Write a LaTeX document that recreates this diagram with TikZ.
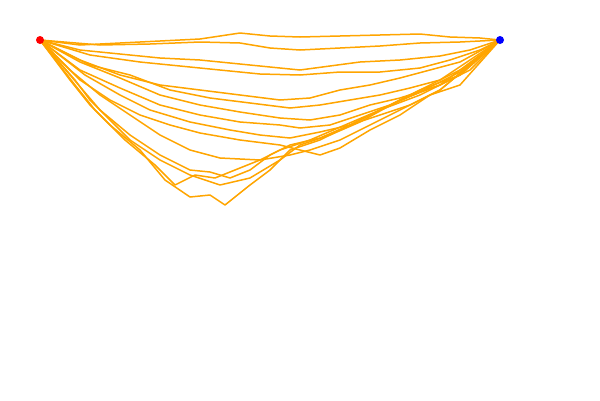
\documentclass[tikz,border=0pt]{standalone}
\usepackage{tikz}

\definecolor{walkorange}{RGB}{255,165,0}

\begin{document}
\begin{tikzpicture}[
  x=1pt, y=-1pt,
  walk/.style={
    draw=walkorange,
    line width=1.5pt,
    line join=round
  },
  endpt/.style={
    circle,
    inner sep=0pt,
    minimum size=8pt
  }
]

\useasboundingbox (0,0) rectangle (600,400);

\coordinate (src) at (40,40);
\coordinate (dst) at (500,40);

\draw[walk] (src) -- (80,45) -- (120,43) -- (160,41) -- (200,39) -- (240,33) -- (270,36) -- (300,37) -- (340,36) -- (380,35) -- (420,34) -- (450,37) -- (480,38) -- (dst);
\draw[walk] (src) -- (100,45) -- (150,44) -- (200,42) -- (240,43) -- (270,48) -- (300,50) -- (340,48) -- (380,46) -- (420,43) -- (460,42) -- (dst);
\draw[walk] (src) -- (80,50) -- (120,54) -- (160,58) -- (200,60) -- (240,64) -- (280,68) -- (300,70) -- (330,66) -- (360,62) -- (400,60) -- (440,56) -- (470,50) -- (dst);
\draw[walk] (src) -- (90,55) -- (140,62) -- (180,66) -- (220,70) -- (260,74) -- (300,75) -- (340,72) -- (380,72) -- (420,68) -- (450,60) -- (480,50) -- (dst);
\draw[walk] (src) -- (80,60) -- (120,75) -- (160,85) -- (200,90) -- (240,95) -- (280,100) -- (310,98) -- (340,90) -- (370,85) -- (400,78) -- (430,70) -- (460,62) -- (dst);
\draw[walk] (src) -- (90,65) -- (130,75) -- (170,90) -- (210,98) -- (250,103) -- (290,108) -- (320,105) -- (350,100) -- (380,95) -- (410,88) -- (440,80) -- (470,65) -- (dst);
\draw[walk] (src) -- (80,62) -- (120,78) -- (160,95) -- (200,105) -- (240,112) -- (280,118) -- (310,120) -- (340,115) -- (370,105) -- (400,98) -- (440,85) -- (470,70) -- (dst);
\draw[walk] (src) -- (80,70) -- (120,88) -- (160,105) -- (200,115) -- (240,122) -- (280,125) -- (300,128) -- (330,125) -- (360,115) -- (390,105) -- (420,90) -- (460,75) -- (dst);
\draw[walk] (src) -- (85,75) -- (120,95) -- (150,110) -- (190,122) -- (230,130) -- (260,135) -- (290,138) -- (320,132) -- (350,125) -- (380,115) -- (410,105) -- (440,90) -- (dst);
\draw[walk] (src) -- (80,80) -- (110,100) -- (140,115) -- (170,125) -- (200,133) -- (240,140) -- (280,145) -- (300,150) -- (320,155) -- (340,148) -- (370,130) -- (400,115) -- (430,95) -- (460,85) -- (dst);
\draw[walk] (src) -- (70,70) -- (100,95) -- (130,115) -- (160,135) -- (190,150) -- (220,158) -- (260,160) -- (290,155) -- (310,150) -- (340,140) -- (370,125) -- (410,105) -- (440,90) -- (dst);
\draw[walk] (src) -- (70,75) -- (100,110) -- (130,135) -- (160,155) -- (190,170) -- (210,172) -- (230,178) -- (250,170) -- (270,155) -- (290,145) -- (320,138) -- (350,125) -- (380,110) -- (420,95) -- (460,75) -- (dst);
\draw[walk] (src) -- (75,80) -- (90,100) -- (110,120) -- (130,140) -- (160,160) -- (190,175) -- (205,180) -- (220,185) -- (250,178) -- (280,160) -- (300,145) -- (330,135) -- (360,122) -- (400,100) -- (440,85) -- (dst);
\draw[walk] (src) -- (70,80) -- (90,105) -- (110,125) -- (140,150) -- (165,180) -- (190,197) -- (210,195) -- (225,205) -- (250,185) -- (270,170) -- (290,150) -- (320,140) -- (360,120) -- (400,100) -- (440,80) -- (dst);
\draw[walk] (src) -- (75,85) -- (95,110) -- (125,140) -- (155,165) -- (175,185) -- (195,175) -- (215,178) -- (240,168) -- (260,160) -- (280,150) -- (310,140) -- (345,125) -- (380,110) -- (420,92) -- (460,72) -- (dst);

\node[endpt, fill=red]  (start) at (src) {};
\node[endpt, fill=blue] (goal)  at (dst) {};

\end{tikzpicture}
\end{document}
